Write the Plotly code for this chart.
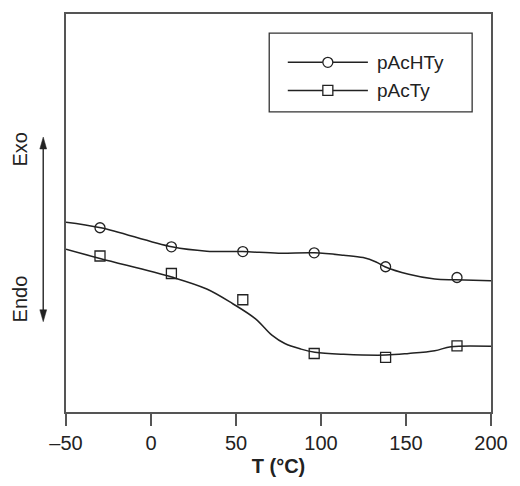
import plotly.graph_objects as go

# ---- data (T in °C, heat flow in arbitrary units) ----
line_T_pAcHTy = [-50, -29.5, 12.2, 32.8, 53.9, 75.0, 96.1, 113.3, 124.8, 132.4, 137.6, 151.6, 166.9, 179.3, 200]
line_y_pAcHTy = [47.7, 46.3, 41.5, 40.4, 40.3, 39.9, 40.0, 39.4, 38.8, 37.7, 36.5, 34.6, 33.4, 33.2, 33.0]

line_T_pAcTy = [-50, -29.5, 12.2, 32.8, 48.1, 61.5, 71.1, 78.7, 88.3, 96.4, 113.3, 138.2, 151.6, 166.9, 176.5, 200]
line_y_pAcTy = [40.9, 38.5, 33.9, 30.9, 27.2, 23.4, 19.3, 17.2, 15.8, 15.0, 14.5, 14.3, 14.7, 15.4, 16.4, 16.5]

marker_T = [-30, 12, 54, 96, 138, 180]
marker_y_pAcHTy = [46.3, 41.5, 40.3, 40.0, 36.5, 33.8]
marker_y_pAcTy = [39.2, 34.8, 28.2, 14.7, 13.7, 16.6]

x_ticks = [-50, 0, 50, 100, 150, 200]
x_ticktext = ["\u201350", "0", "50", "100", "150", "200"]

series_names = ["pAcHTy", "pAcTy"]

FONT = "Liberation Sans, Arial, sans-serif"
INK = "#222222"
FRAME = "#555555"

W, H = 520, 486
ML, MR, MT, MB = 66, 19, 13, 72
PW, PH = W - ML - MR, H - MT - MB


def px(x):
    return (x - ML) / PW


def py(y):
    return (H - MB - y) / PH


fig = go.Figure()

fig.add_trace(go.Scatter(x=line_T_pAcHTy, y=line_y_pAcHTy, mode="lines",
                         line=dict(color=INK, width=1.5, shape="spline", smoothing=1.0),
                         showlegend=False, hoverinfo="skip"))
fig.add_trace(go.Scatter(x=marker_T, y=marker_y_pAcHTy, mode="markers", name=series_names[0],
                         marker=dict(symbol="circle-open", size=10, color=INK, line=dict(width=1.3, color=INK)),
                         showlegend=False))
fig.add_trace(go.Scatter(x=line_T_pAcTy, y=line_y_pAcTy, mode="lines",
                         line=dict(color=INK, width=1.5, shape="spline", smoothing=1.0),
                         showlegend=False, hoverinfo="skip"))
fig.add_trace(go.Scatter(x=marker_T, y=marker_y_pAcTy, mode="markers", name=series_names[1],
                         marker=dict(symbol="square-open", size=10, color=INK, line=dict(width=1.3, color=INK)),
                         showlegend=False))

# ---- custom legend (decoration, paper coordinates via overlay axes) ----
leg_rows_y = [61.7, 90.0]
leg_symbols = ["circle", "square"]
shapes = []
shapes.append(dict(type="rect", xref="paper", yref="paper", layer="below",
                   x0=px(274), x1=px(481.7), y0=py(111.7), y1=py(32.3),
                   line=dict(color="#333333", width=1.3), fillcolor="white"))
annotations = []
for name, sym, ry in zip(series_names, leg_symbols, leg_rows_y):
    shapes.append(dict(type="line", xref="paper", yref="paper", layer="below",
                       x0=px(293), x1=px(375), y0=py(ry), y1=py(ry),
                       line=dict(color=INK, width=1.5)))
    fig.add_trace(go.Scatter(x=[px(334)], y=[py(ry)], xaxis="x2", yaxis="y2", mode="markers",
                             marker=dict(symbol=sym, size=10, color="white", line=dict(width=1.3, color=INK)),
                             showlegend=False, hoverinfo="skip", cliponaxis=False))
    annotations.append(dict(text=name, xref="paper", yref="paper", x=px(382), y=py(ry),
                            xanchor="left", yanchor="middle", showarrow=False,
                            font=dict(family=FONT, size=19, color=INK)))

# ---- Exo / Endo arrow ----
ax_x = 42.7
top_tip, bot_tip = 137, 323
head_len, head_hw = 12, 3.5
shapes.append(dict(type="line", xref="paper", yref="paper",
                   x0=px(ax_x), x1=px(ax_x), y0=py(top_tip + head_len - 1), y1=py(bot_tip - head_len + 1),
                   line=dict(color="#333333", width=1.5)))
shapes.append(dict(type="path", xref="paper", yref="paper",
                   path=f"M {px(ax_x)},{py(top_tip)} L {px(ax_x - head_hw)},{py(top_tip + head_len)} "
                        f"L {px(ax_x + head_hw)},{py(top_tip + head_len)} Z",
                   fillcolor="#222222", line=dict(color="#222222", width=0.5)))
shapes.append(dict(type="path", xref="paper", yref="paper",
                   path=f"M {px(ax_x)},{py(bot_tip)} L {px(ax_x - head_hw)},{py(bot_tip - head_len)} "
                        f"L {px(ax_x + head_hw)},{py(bot_tip - head_len)} Z",
                   fillcolor="#222222", line=dict(color="#222222", width=0.5)))
annotations.append(dict(text="Exo", xref="paper", yref="paper", x=px(18.5), y=py(150),
                        textangle=-90, showarrow=False, xanchor="center", yanchor="middle",
                        font=dict(family=FONT, size=20, color=INK)))
annotations.append(dict(text="Endo", xref="paper", yref="paper", x=px(18.5), y=py(300),
                        textangle=-90, showarrow=False, xanchor="center", yanchor="middle",
                        font=dict(family=FONT, size=20, color=INK)))

fig.update_layout(
    width=W, height=H,
    margin=dict(l=ML, r=MR, t=MT, b=MB, pad=0),
    paper_bgcolor="white", plot_bgcolor="white",
    font=dict(family=FONT, size=20, color=INK),
    showlegend=False,
    xaxis=dict(range=[-50, 200], tickvals=x_ticks, ticktext=x_ticktext,
               ticks="outside", ticklen=12, tickwidth=1.5, tickcolor=FRAME,
               showline=True, linecolor=FRAME, linewidth=1.8, mirror=True,
               showgrid=False, zeroline=False,
               tickfont=dict(family=FONT, size=20, color=INK),
               title=dict(text="<b>T (°C)</b>", font=dict(family=FONT, size=20, color=INK), standoff=6)),
    yaxis=dict(range=[0, 100], showticklabels=False, ticks="",
               showline=True, linecolor=FRAME, linewidth=1.8, mirror=True,
               showgrid=False, zeroline=False),
    xaxis2=dict(overlaying="x", range=[0, 1], visible=False, fixedrange=True),
    yaxis2=dict(overlaying="y", range=[0, 1], visible=False, fixedrange=True),
    shapes=shapes,
    annotations=annotations,
)

fig.write_html("out.html")
